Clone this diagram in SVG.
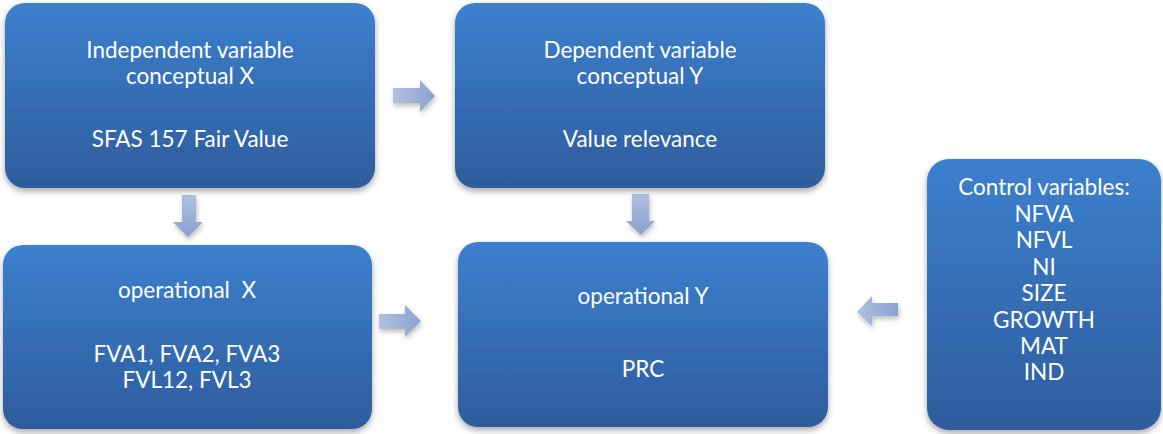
<svg xmlns="http://www.w3.org/2000/svg" width="1163" height="434" viewBox="0 0 1163 434">
<defs>
<linearGradient id="boxg" x1="0" y1="0" x2="0" y2="1">
<stop offset="0" stop-color="#3c80ce"/>
<stop offset="1" stop-color="#2e5c9d"/>
</linearGradient>
<linearGradient id="arrg" x1="0" y1="0" x2="0" y2="1">
<stop offset="0" stop-color="#afc1e2"/>
<stop offset="1" stop-color="#899fcc"/>
</linearGradient>
<linearGradient id="arrgh" x1="0" y1="0" x2="1" y2="0">
<stop offset="0" stop-color="#afc1e2"/>
<stop offset="1" stop-color="#8ca2cf"/>
</linearGradient>
<filter id="sh" x="-10%" y="-10%" width="120%" height="125%">
<feDropShadow dx="0" dy="3" stdDeviation="3" flood-color="#000" flood-opacity="0.35"/>
</filter>
<filter id="ash" x="-30%" y="-30%" width="160%" height="160%">
<feDropShadow dx="1" dy="3" stdDeviation="2.5" flood-color="#000" flood-opacity="0.25"/>
</filter>
</defs>
<style>
.box{fill:url(#boxg);filter:url(#sh)}
.t{font-family:Lato,"Open Sans","Liberation Sans",sans-serif;font-size:22.5px;fill:#ffffff;text-anchor:middle}
.arr{filter:url(#ash)}
</style>
<rect width="1163" height="434" fill="#ffffff"/>
<g id="connectors">
<path class="arr" fill="url(#arrgh)" d="M393,88 L420,88 L420,80 L435,96 L420,112 L420,103 L393,103 Z"/>
<path class="arr" fill="url(#arrg)" d="M182,195 L196,195 L196,222 L203,222 L188,237 L173,222 L182,222 Z"/>
<path class="arr" fill="url(#arrg)" d="M632,194 L649,194 L649,221 L655,221 L641,235 L626,221 L632,221 Z"/>
<path class="arr" fill="url(#arrgh)" d="M379,314 L405,314 L405,305 L421,321 L405,337 L405,329 L379,329 Z"/>
<path class="arr" fill="url(#arrgh)" d="M898,303 L872,303 L872,296 L857,312 L872,326 L872,316 L898,316 Z"/>
</g>
<g id="node-indep">
<rect class="box" x="5" y="3" width="370" height="185" rx="20"/>
<text class="t" x="190" y="58">Independent variable</text>
<text class="t" x="190" y="84">conceptual X</text>
<text class="t" x="190" y="147">SFAS 157 Fair Value</text>
</g>
<g id="node-dep">
<rect class="box" x="455" y="3" width="370" height="185" rx="20"/>
<text class="t" x="640" y="58">Dependent variable</text>
<text class="t" x="640" y="84">conceptual Y</text>
<text class="t" x="640" y="147">Value relevance</text>
</g>
<g id="node-opx">
<rect class="box" x="3" y="245" width="369" height="184" rx="20"/>
<text class="t" x="187" y="298" xml:space="preserve">operational  X</text>
<text class="t" x="187" y="362">FVA1, FVA2, FVA3</text>
<text class="t" x="187" y="388">FVL12, FVL3</text>
</g>
<g id="node-opy">
<rect class="box" x="458" y="242" width="370" height="185" rx="20"/>
<text class="t" x="643" y="304">operational Y</text>
<text class="t" x="643" y="377">PRC</text>
</g>
<g id="node-control">
<rect class="box" x="927" y="159" width="234" height="271" rx="22"/>
<text class="t" x="1044" y="195">Control variables:</text>
<text class="t" x="1044" y="222">NFVA</text>
<text class="t" x="1044" y="248">NFVL</text>
<text class="t" x="1044" y="275">NI</text>
<text class="t" x="1044" y="301">SIZE</text>
<text class="t" x="1044" y="328">GROWTH</text>
<text class="t" x="1044" y="354">MAT</text>
<text class="t" x="1044" y="380">IND</text>
</g>
</svg>
